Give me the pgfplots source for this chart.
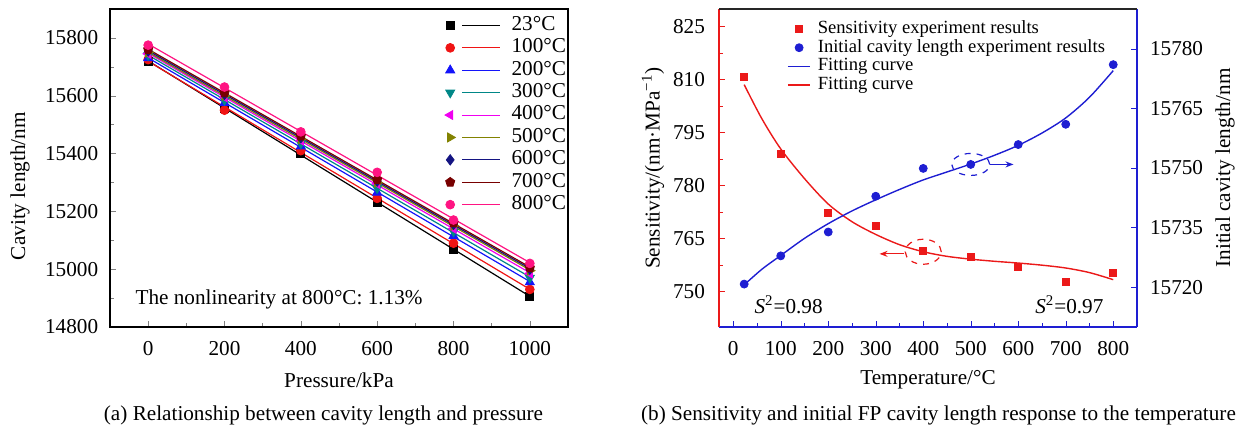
\documentclass[border=0pt]{standalone}
\usepackage{fontspec}
\setmainfont{Liberation Serif}
\usepackage{pgfplots}
\usepackage{pgfplotstable}
\pgfplotsset{compat=1.18}
\usetikzlibrary{plotmarks,arrows.meta}

\newcommand\fs{\fontsize{10.6pt}{12pt}\selectfont}
\newcommand\fl{\fontsize{9.3pt}{10pt}\selectfont}

\definecolor{c23}{RGB}{0,0,0}
\definecolor{c100}{RGB}{240,20,20}
\definecolor{c200}{RGB}{20,20,250}
\definecolor{c300}{RGB}{0,135,135}
\definecolor{c400}{RGB}{240,0,240}
\definecolor{c500}{RGB}{130,130,0}
\definecolor{c600}{RGB}{20,20,130}
\definecolor{c700}{RGB}{120,0,0}
\definecolor{c800}{RGB}{255,20,130}
\definecolor{rred}{RGB}{235,25,25}
\definecolor{bblue}{RGB}{30,30,210}

% cavity length vs pressure, one column per temperature
\pgfplotstableread{
P     c23   c100  c200  c300  c400  c500  c600  c700  c800
0     15720 15725 15730 15740 15745 15750 15755 15760 15775
200   15555 15550 15575 15585 15595 15600 15605 15610 15630
400   15400 15410 15425 15435 15445 15450 15455 15460 15475
600   15230 15245 15265 15280 15295 15300 15305 15310 15335
800   15070 15090 15115 15130 15140 15150 15155 15160 15170
1000  14905 14930 14955 14970 14985 14995 15000 15005 15020
}\dataA

\pgfplotsset{
  panel/.style={
    scale only axis, anchor=south west, height=159pt,
    tick align=inside, major tick length=3pt, minor tick length=1.8pt,
    tick label style={font=\fs}, label style={font=\fs},
    /pgf/number format/assume math mode=true,
    /pgf/number format/1000 sep={},
    scaled ticks=false, clip=false,
  },
  lg/.style={legend image code/.code={
      \draw[##1] plot coordinates {(0pt,0pt)};
      \draw[##1,solid] (6pt,0pt) -- (25pt,0pt);}},
  lgline/.style={legend image code/.code={
      \draw[##1] (0pt,0pt) -- (11.3pt,0pt);}},
  lgmark/.style={legend image code/.code={
      \draw[##1] plot coordinates {(5.65pt,0pt)};}},
}

\newcommand\series[4]{%
  \addplot[#2, line width=0.6pt, forget plot]
    table[x=P, y={create col/linear regression={y=#1}}] {\dataA};
  \addplot[#2, only marks, mark=#3, mark options={solid,fill=#2,#4}, lg]
    table[x=P, y=#1] {\dataA};
}

\begin{document}
\begin{tikzpicture}
\path[use as bounding box] (0,0) rectangle (623.5pt,212.5pt);

% (a)
\begin{axis}[panel, at={(55pt,49pt)}, width=229pt,
  xmin=-100, xmax=1100, ymin=14800, ymax=15900,
  xtick={0,200,...,1000}, ytick={14800,15000,...,15800},
  minor x tick num=1, minor y tick num=1, tick pos=left,
  axis line style={line width=0.7pt},
  xlabel={Pressure/kPa}, ylabel={Cavity length/nm},
  xlabel style={at={(axis description cs:0.5,-0.167)}, anchor=center},
  ylabel style={at={(axis description cs:-0.1965,0.443)}, anchor=center},
  xticklabel style={yshift=-3.5pt}, yticklabel style={xshift=-2.4pt},
  legend cell align=left,
  legend style={draw=none, fill=none, font=\fs, inner sep=0pt,
    at={(axis description cs:0.7306,0.981)}, anchor=north west,
    nodes={inner sep=0pt, text height=7.4pt, text depth=2.6pt},
    row sep=1.2pt, column sep=5.5pt},
]
\series{c23}{c23}{square*}{mark size=2pt}
\series{c100}{c100}{*}{mark size=2.2pt}
\series{c200}{c200}{triangle*}{mark size=2.6pt}
\series{c300}{c300}{triangle*}{mark size=2.6pt,rotate=180}
\series{c400}{c400}{triangle*}{mark size=2.6pt,rotate=90}
\series{c500}{c500}{triangle*}{mark size=2.6pt,rotate=-90}
\series{c600}{c600}{diamond*}{mark size=2.6pt}
\series{c700}{c700}{pentagon*}{mark size=2.4pt}
\series{c800}{c800}{*}{mark size=2.2pt}
\legend{23°C,100°C,200°C,300°C,400°C,500°C,600°C,700°C,800°C}
\node[anchor=west, font=\fs, inner sep=0pt] at (axis cs:-34,14897)
  {The nonlinearity at 800°C: 1.13\%};
\end{axis}

% (b) left axis: sensitivity
\begin{axis}[panel, at={(359.5pt,49pt)}, width=209pt,
  xmin=-30, xmax=850, ymin=740, ymax=830,
  axis x line*=bottom, axis y line*=left,
  x axis line style={draw=bblue, line width=0.9pt, -},
  y axis line style={draw=rred, line width=0.9pt, -},
  xtick={0,100,...,800}, ytick={750,765,...,825},
  minor x tick num=1, minor y tick num=1,
  xtick style={color=bblue}, ytick style={color=rred},
  xlabel={Temperature/°C},
  ylabel={Sensitivity/(nm·MPa\textsuperscript{−1})},
  xlabel style={at={(axis description cs:0.5,-0.167)}, anchor=center},
  ylabel style={at={(axis description cs:-0.158,0.5)}, anchor=center},
  xticklabel style={yshift=-3.5pt}, yticklabel style={xshift=-3.5pt},
]
\addplot[rred, only marks, mark=square*, mark size=1.75pt] coordinates {
  (23,810.8) (100,789.1) (200,772.3) (300,768.6) (400,761.4)
  (500,759.9) (600,757.1) (700,752.7) (800,755.4)};
\addplot[rred, line width=0.7pt, smooth] coordinates {
  (23,808.6) (60,799) (100,790.4) (150,782) (200,774.8) (250,769.8)
  (300,766.2) (350,763.3) (400,761.3) (450,760) (500,759.2) (550,758.6)
  (600,758.1) (650,757.5) (700,756.7) (750,755.4) (800,753.4)};
\draw[rred, dashed, line width=0.6pt] (axis cs:400,761.3) ellipse [x radius=9pt, y radius=6.25pt];
\draw[rred, line width=0.6pt, -{Stealth[length=4pt,width=3pt]}] (axis cs:360,760.7) -- (axis cs:308,760.7);
\node[anchor=west, font=\fs, inner sep=0pt] at (axis cs:44,746.2) {\textit{S}\textsuperscript{2}=0.98};
\node[anchor=west, font=\fs, inner sep=0pt] at (axis cs:635,746.2) {\textit{S}\textsuperscript{2}=0.97};
\end{axis}

% (b) right axis: initial cavity length
\begin{axis}[panel, at={(359.5pt,49pt)}, width=209pt,
  xmin=-30, xmax=850, ymin=15710, ymax=15790,
  axis x line=none, axis y line*=right,
  y axis line style={draw=bblue, line width=0.9pt, -},
  ytick={15720,15735,...,15780}, minor y tick num=1,
  ytick style={color=bblue},
  ylabel={Initial cavity length/nm},
  ylabel style={at={(axis description cs:1.2105,0.5)}, anchor=center},
  yticklabel style={xshift=3pt},
  legend cell align=left,
  legend style={draw=none, fill=none, font=\fl, inner sep=0pt,
    at={(axis description cs:0.162,0.966)}, anchor=north west,
    nodes={inner sep=0pt, text height=6.6pt, text depth=2.2pt},
    row sep=0.55pt, column sep=3.35pt},
]
\draw[black!85, line width=0.9pt] (rel axis cs:0,1) -- (rel axis cs:1,1);
\addlegendimage{color=rred, only marks, mark=square*, mark size=1.75pt, lgmark}
\addlegendentry{Sensitivity experiment results}
\addplot[bblue, only marks, mark=*, mark size=2pt, lgmark] coordinates {
  (23,15720.8) (100,15727.9) (200,15733.9) (300,15742.9) (400,15749.9)
  (500,15750.9) (600,15755.9) (700,15761) (800,15776)};
\addlegendentry{Initial cavity length experiment results}
\addplot[bblue, line width=0.7pt, smooth, lgline] coordinates {
  (23,15720.6) (60,15724.5) (100,15728) (150,15732.3) (200,15736)
  (250,15739.2) (300,15742) (350,15744.6) (400,15747) (450,15749)
  (500,15751) (550,15753.2) (600,15755.7) (650,15758.8) (700,15762.6)
  (750,15767.8) (800,15774.5)};
\addlegendentry{Fitting curve}
\addlegendimage{color=rred, draw=rred, line width=0.7pt, lgline}
\addlegendentry{Fitting curve}
\draw[bblue, dashed, line width=0.6pt] (axis cs:500,15750.9) ellipse [x radius=9.5pt, y radius=5.5pt];
\draw[bblue, line width=0.6pt, -{Stealth[length=4pt,width=3pt]}] (axis cs:540,15750.9) -- (axis cs:590,15750.9);
\end{axis}

\node[font=\fs, anchor=base] at (161.75pt,2.5pt) {(a) Relationship between cavity length and pressure};
\node[font=\fs, anchor=base] at (469.25pt,2.5pt) {(b) Sensitivity and initial FP cavity length response to the temperature};
\end{tikzpicture}
\end{document}
